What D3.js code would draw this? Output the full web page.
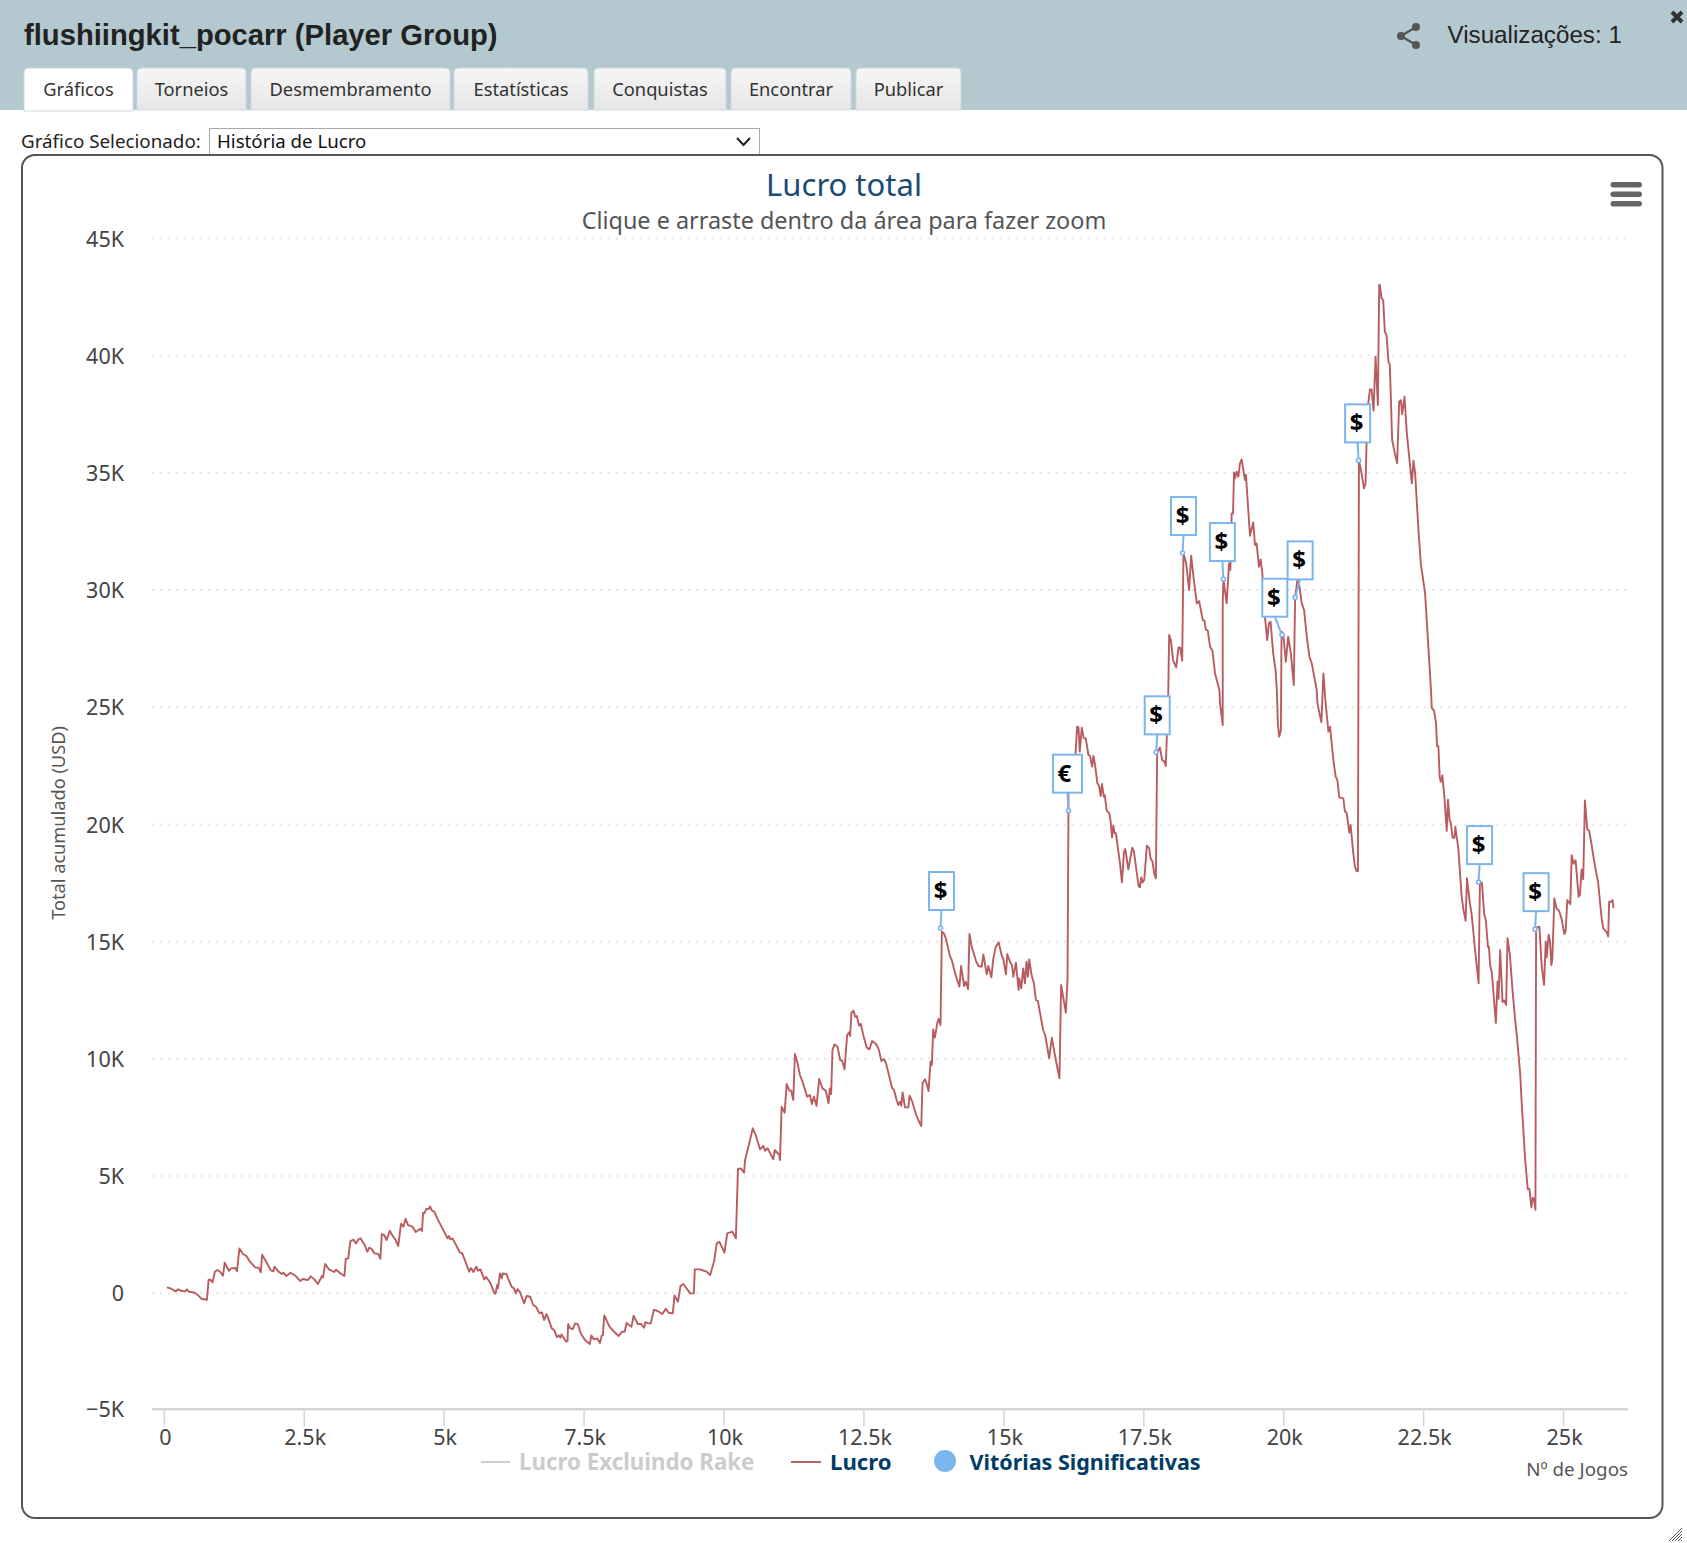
<!DOCTYPE html>
<html>
<head>
<meta charset="utf-8">
<script src="https://cdn.jsdelivr.net/npm/d3@7"></script>
<style>
  html, body { margin: 0; padding: 0; background: #fff; overflow: hidden; }
  svg { display: block; }
  text { font-family: "Noto Sans", sans-serif; }
  .arial { font-family: "Liberation Sans", Arial, sans-serif; }
</style>
</head>
<body>
<div id="container"></div>
<script>
const width = 1687;
const height = 1543;

const tabNames = ["Gráficos", "Torneios", "Desmembramento", "Estatísticas", "Conquistas", "Encontrar", "Publicar"];
const yTicks = [-5000, 0, 5000, 10000, 15000, 20000, 25000, 30000, 35000, 40000, 45000];
const yTickLabels = ["−5K", "0", "5K", "10K", "15K", "20K", "25K", "30K", "35K", "40K", "45K"];
const xTicks = [0, 2500, 5000, 7500, 10000, 12500, 15000, 17500, 20000, 22500, 25000];
const xTickLabels = ["0", "2.5k", "5k", "7.5k", "10k", "12.5k", "15k", "17.5k", "20k", "22.5k", "25k"];

// games played
const games = [
  57,132,207,257,320,382,413,445,538,601,670,770,801,832,870,913,957,1007,1057,1088,
  1163,1207,1276,1307,1351,1413,1476,1538,1632,1694,1732,1757,1819,1913,1957,1976,
  2045,2108,2139,2189,2264,2357,2439,2482,2576,2626,2689,2751,2826,2845,2882,2951,3045,3076,3170,3226,
  3251,3295,3332,3389,3432,3482,3514,3588,3638,3670,3714,3764,3826,3870,3895,3938,3982,
  4038,4082,4144,4188,4238,4282,4319,4363,4444,4501,4582,4613,4632,4657,4688,4738,4757,4788,4832,4894,4988,
  5069,5094,5119,5157,5238,5288,5332,5457,5488,5532,5582,5613,5657,5725,5757,5832,5907,5925,5957,5969,
  6006,6038,6056,6119,6213,6256,6288,6319,6369,6437,6481,6544,6600,6650,6712,6756,6794,6837,6869,6931,6975,
  7025,7056,7087,7106,7181,7212,7225,7262,7306,7350,7400,7444,7525,7612,7637,7681,7743,7793,7825,7844,7869,7962,
  8044,8126,8188,8232,8269,8313,8356,8394,8469,8532,8581,8606,8656,8700,8757,8844,8907,8969,9019,9094,9125,9187,9231,9282,9406,9469,9487,9581,
  9607,9698,9761,9833,9879,9925,10016,10067,10158,10221,10258,10312,10367,
  10385,10463,10522,10575,10652,10712,10742,10789,10890,10914,10997,11009,11038,11092,11128,11175,11210,11246,11276,11323,
  11365,11412,11495,11543,11578,11614,11662,11709,11769,11828,11875,11899,11923,11947,11982,
  12037,12084,12120,12162,12209,12245,12262,12286,12322,12352,12381,12423,12452,12512,12559,12607,12654,12725,12773,12820,
  12868,12903,12963,13010,13046,13093,13123,13153,13177,13200,13242,13301,13325,13372,13438,13479,13533,13556,13598,13628,
  13663,13699,13722,13746,13776,13818,13842,13877,13901,13937,13972,
  14049,14079,14138,14215,14245,14298,14328,14370,14394,14435,14512,14554,14613,14643,14702,14732,14785,14821,14862,14916,
  14969,14999,15046,15070,15118,15153,15177,15224,15272,15284,15319,15355,15385,15414,15438,15462,15504,15545,15581,15616,
  15711,15747,15818,15866,15937,16002,16032,16116,16146,16163,
  16163,16175,16288,16318,16342,16365,16401,16437,16472,16520,16549,16585,16609,16638,16680,16710,16739,16763,16793,16811,
  16846,16894,16917,16941,16965,16989,17012,17054,17084,17119,17155,17179,17232,17303,17333,17369,17416,17440,17464,17487,
  17517,17564,17606,17630,17665,17695,17725,17748,17796,17837,17873,17903,17921,17944,
  17962,17992,18033,18088,18129,18159,18195,18218,18266,18319,18355,18396,18456,18497,18563,18592,18616,18652,18693,18735,
  18782,18812,18860,18871,18919,
  18919,18931,18990,19032,19055,19079,19103,19121,19138,19168,19198,19228,19257,19317,19334,19406,19465,19495,19524,19566,
  19596,19625,19673,19714,19744,19774,19821,19863,19886,19904,19928,19958,19970,19999,
  20047,20088,20136,20189,20213,20255,20290,20332,20373,20421,20468,20510,20599,20611,20682,20718,20753,20807,20836,20896,
  20937,20967,21002,21074,21103,21133,21181,21204,21252,21282,21311,21335,21353,21400,21442,21471,21489,21519,21549,21578,
  21614,21650,21691,21715,21727,21757,21786,21816,21846,21881,21905,21946,21994,
  22035,22072,22102,22125,22167,22209,22298,22327,22357,22416,22458,22535,22640,
  22654,22695,22731,22748,22772,22796,22814,22843,22879,22921,22944,22974,22992,23027,23057,23075,23128,23188,23217,23259,
  23283,23336,23366,23425,23490,23514,23550,23591,23621,23657,23674,23698,23728,23752,23799,23829,23847,23876,23918,23947,
  23983,24007,24048,24096,24143,24173,24233,24262,24322,24369,24399,24434,24458,24482,24506,24518,24577,24618,24660,24690,
  24707,24743,24767,24791,24808,24844,24886,24927,24975,25022,25046,25075,25129,25153,25188,25224,25277,25301,25331,25360,
  25390,25432,25467,25509,25568,25627,25687,25717,25776,25806,25823,25865,25883,25901
];

// cumulative profit in USD, same order as games
const profit = [
  228,171,57,142,71,57,142,43,14,-85,-256,-299,555,555,441,896,967,896,725,1280,
  939,1038,1052,924,1891,1650,1564,1322,1081,1067,867,1621,1365,953,910,1109,
  910,796,853,711,853,711,498,583,540,697,569,370,711,654,1223,995,882,981,796,711,
  1436,1465,2190,2261,2105,2289,2318,2033,1749,1920,1863,1678,1664,1450,2503,2460,2247,
  2645,2446,2247,1991,2944,2816,3157,2887,2816,2588,2730,2631,3413,3384,3569,3583,3683,3512,3455,3128,2702,
  2318,2417,2275,2318,1962,1721,1678,896,1052,882,1109,939,995,569,668,427,-28,-43,327,185,
  825,611,825,796,256,185,-28,156,0,-455,-142,-171,-526,-597,-882,-839,-1166,-910,-1095,-1522,-1593,
  -1891,-1820,-1920,-1778,-2076,-2076,-1337,-1522,-1550,-1308,-1351,-1706,-2019,-2190,-1820,-1991,-1948,-2147,-1820,-1820,-967,-1450,
  -1664,-1849,-1664,-1664,-1294,-1379,-1450,-981,-1337,-1337,-1493,-1251,-1308,-1308,-725,-811,-910,-683,-853,-882,-114,-384,284,370,-28,-28,995,995,
  968,897,755,1352,2105,2177,1707,2532,2603,2319,5276,5305,5120,
  5661,6400,7012,6727,6116,6259,6059,6159,5689,6087,5874,5661,7936,7680,8903,8619,8619,8221,10183,9785,
  9287,9003,8363,8434,8050,8363,7965,9116,8718,8619,8078,8718,8477,10353,10595,
  10496,9927,9899,9529,10994,11107,10951,11946,12032,11775,11804,11392,11463,10851,10453,10382,10737,10610,10382,9884,
  9970,9785,9216,8747,8647,8221,8007,8149,7979,8548,7908,7908,8406,8149,7609,7367,7111,8932,9102,8932,
  8604,9856,9714,11235,10880,11491,11676,11420,15402,15331,15117,
  14335,14193,13624,13055,13937,13084,13269,12956,15302,14762,14149,13937,13908,14435,13581,13937,13454,14264,14733,14947,
  14406,14236,13581,14449,14122,13980,13482,14079,12913,13411,12984,13837,13198,14122,13482,14221,13553,13198,12487,12444,
  11207,10994,9998,10880,9927,9145,13126,11946,13341,20565,
  21304,21873,22940,24148,24120,23082,24106,23650,23650,22940,22897,22442,22897,22513,21731,21617,21190,21702,21162,21233,
  20565,20451,20095,19427,19925,19598,19598,18816,18318,17507,18816,18929,18062,18986,18816,18176,17351,17294,17721,17507,
  17607,19072,18958,18531,18389,17891,17678,23053,23252,22726,22669,22470,23793,25286,
  28057,27843,26991,26678,27531,27531,26962,31541,31114,29977,31441,30546,29408,29507,28697,28669,28298,28242,27559,27389,
  26422,26139,25711,25144,24219,
  29408,30446,29408,31114,30830,33247,33247,34996,34740,35025,34812,35380,35551,34669,34883,32295,32863,31897,31968,30972,
  31285,30759,28839,27844,28555,28626,27275,26564,25711,24290,23722,24006,28199,28128,
  26920,27986,27275,25925,29692,30404,30119,29408,29124,27986,27133,26848,25711,25144,24333,26422,25286,23935,24148,22726,
  22015,21873,21134,21091,20522,20480,19626,19953,18744,18176,17991,17991,35523,34954,34314,34527,36234,37940,38537,38537,
  37627,39931,37869,42988,42988,42419,42348,40997,40855,39717,39575,36376,35807,
  35380,38011,38082,37485,38224,36660,34527,35494,34954,32536,31114,29835,25711,
  24941,24838,24277,23318,23318,21989,21798,22063,21178,19702,21030,20115,20071,19406,19406,19879,18964,16897,16381,15864,
  17680,16602,16159,14683,13207,17488,17488,16159,15864,14757,14757,13945,13650,12912,11510,13281,12543,14610,12395,12469,
  12277,15126,14462,12912,11657,10993,9370,8041,5680,4425,4425,3643,4056,3982,3539,15569,15613,13945,13133,14978,
  14314,15274,14978,13975,14240,16823,16381,16307,15938,15303,15421,16750,16572,18668,18299,18447,16897,16971,18048,17635,
  21000,19775,19702,19111,18226,17488,16012,15540,15392,15200,16676,16676,16750,16410
];

const flagGames = [13877, 16163, 17731, 18201, 18931, 19975, 20213, 21347, 23490, 24500];
const flagProfit = [15558, 20565, 23053, 31555, 30446, 28071, 29664, 35508, 17517, 15510];
const flagSymbols = ["$", "€", "$", "$", "$", "$", "$", "$", "$", "$"];

const lineColor = "#b85c60";
const flagColor = "#7cb5ec";
const titleColor = "#1b4a70";
const legendColor = "#003c66";

const svg = d3.select("#container").append("svg")
  .attr("width", width).attr("height", height)
  .attr("viewBox", `0 0 ${width} ${height}`);

const defs = svg.append("defs");
const tabGrad = defs.append("linearGradient").attr("id", "tabGrad")
  .attr("x1", 0).attr("x2", 0).attr("y1", 0).attr("y2", 1);
tabGrad.append("stop").attr("offset", "0%").attr("stop-color", "#f6f6f6");
tabGrad.append("stop").attr("offset", "100%").attr("stop-color", "#e6e6e6");

// page header
svg.append("rect").attr("width", width).attr("height", 110).attr("fill", "#b4c8d0");
svg.append("text").attr("class", "arial").attr("x", 24).attr("y", 45)
  .attr("font-size", 29.2).attr("font-weight", 700).attr("fill", "#222")
  .text("flushiingkit_pocarr (Player Group)");
svg.append("text").attr("class", "arial").attr("x", 1447.5).attr("y", 43)
  .attr("font-size", 24.2).attr("fill", "#222").text("Visualizações: 1");

const share = svg.append("g").attr("stroke", "#555").attr("fill", "#555");
share.append("path").attr("fill", "none").attr("stroke-width", 2.4).attr("d", "M1416,27 L1401,36 L1416,45");
[[1416, 27], [1401, 36], [1416, 45]].forEach(([cx, cy]) =>
  share.append("circle").attr("cx", cx).attr("cy", cy).attr("r", 4).attr("stroke", "none"));

svg.append("path").attr("d", "M1672,12 L1682,22 M1682,12 L1672,22")
  .attr("stroke", "#333").attr("stroke-width", 4);

// tabs
const tabEdges = [[24, 133], [137, 246], [251, 450], [454, 588], [594, 726], [731, 851], [856, 961]];
const tabs = svg.selectAll(".tab").data(tabNames).join("g").attr("class", "tab");
tabs.append("path")
  .attr("d", (d, i) => {
    const [a, b] = tabEdges[i];
    const bottom = i === 0 ? 111 : 110;
    return `M${a},${bottom} V73 Q${a},68 ${a + 5},68 H${b - 5} Q${b},68 ${b},73 V${bottom} Z`;
  })
  .attr("fill", (d, i) => (i === 0 ? "#fff" : "url(#tabGrad)"))
  .attr("stroke", "#cfd8dc");
tabs.append("text")
  .attr("x", (d, i) => (tabEdges[i][0] + tabEdges[i][1]) / 2)
  .attr("y", 95.5).attr("text-anchor", "middle")
  .attr("font-size", 18.3).attr("fill", "#333")
  .text((d) => d);

// graph picker
svg.append("text").attr("x", 21).attr("y", 148).attr("font-size", 18.8).attr("fill", "#222").text("Gráfico Selecionado:");
svg.append("rect").attr("x", 209.5).attr("y", 128.5).attr("width", 550).attr("height", 26)
  .attr("fill", "#fff").attr("stroke", "#aaa");
svg.append("text").attr("x", 217).attr("y", 148).attr("font-size", 18.7).attr("fill", "#111").text("História de Lucro");
svg.append("path").attr("d", "M737,138 L743.5,145 L750,138").attr("fill", "none").attr("stroke", "#222").attr("stroke-width", 2);

// chart frame
svg.append("rect").attr("x", 22).attr("y", 155).attr("width", 1640.5).attr("height", 1363)
  .attr("rx", 13).attr("fill", "#fff").attr("stroke", "#555").attr("stroke-width", 2);

svg.append("text").attr("x", 844).attr("y", 195.5).attr("text-anchor", "middle")
  .attr("font-size", 31).attr("fill", titleColor).text("Lucro total");
svg.append("text").attr("x", 844).attr("y", 229).attr("text-anchor", "middle")
  .attr("font-size", 23.4).attr("fill", "#555").text("Clique e arraste dentro da área para fazer zoom");

[184.7, 194.2, 203.7].forEach((y) =>
  svg.append("rect").attr("x", 1610.5).attr("y", y - 2.7).attr("width", 31.5).attr("height", 5.4)
    .attr("rx", 2.7).attr("fill", "#666"));

// scales
const x = d3.scaleLinear().domain([-211, 26160]).range([152, 1628]);
const y = d3.scaleLinear().domain([-5000, 45000]).range([1409.9, 237.9]);

// grid and y axis
const yAxis = svg.append("g")
  .attr("transform", `translate(${x.range()[0]},0)`)
  .call(d3.axisLeft(y)
    .tickValues(yTicks.slice(1))
    .tickSize(-(x.range()[1] - x.range()[0]))
    .tickPadding(28)
    .tickFormat((d) => yTickLabels[yTicks.indexOf(d)]));
yAxis.select(".domain").remove();
yAxis.selectAll("line").attr("stroke", "#e6e6e6").attr("stroke-width", 2).attr("stroke-dasharray", "2,6");
yAxis.selectAll("text").attr("font-size", 21.5).attr("fill", "#444").attr("font-family", "Noto Sans").attr("dy", "0.38em");
svg.append("text").attr("x", 124).attr("y", y(-5000) + 7).attr("text-anchor", "end")
  .attr("font-size", 21.5).attr("fill", "#444").text(yTickLabels[0]);

// x axis
const xAxis = svg.append("g")
  .attr("transform", `translate(0,${y(-5000) - 0.6})`)
  .call(d3.axisBottom(x)
    .tickValues(xTicks)
    .tickSize(17)
    .tickPadding(3)
    .tickFormat((d, i) => xTickLabels[i]));
xAxis.select(".domain").attr("stroke", "#ccc").attr("stroke-width", 2).attr("d", `M${x.range()[0]},0H${x.range()[1]}`);
xAxis.selectAll("line").attr("stroke", "#ccd6eb").attr("stroke-width", 1.5);
xAxis.selectAll("text").attr("font-size", 21.5).attr("fill", "#444").attr("font-family", "Noto Sans").attr("dx", 1);

svg.append("text")
  .attr("transform", "translate(65,823) rotate(-90)")
  .attr("text-anchor", "middle").attr("font-size", 18.2).attr("fill", "#555")
  .text("Total acumulado (USD)");
svg.append("text").attr("x", 1628).attr("y", 1476).attr("text-anchor", "end")
  .attr("font-size", 18.8).attr("fill", "#555").text("Nº de Jogos");

// profit line
const points = d3.zip(games, profit);
const line = d3.line().x((d) => x(d[0])).y((d) => y(d[1]));
svg.append("path").datum(points)
  .attr("fill", "none").attr("stroke", lineColor).attr("stroke-width", 1.9)
  .attr("stroke-linejoin", "round").attr("d", line);

// flags for the big wins, boxes pushed sideways where they would collide
const flagNudge = [1, -1, 1, 1, -1, -7, 5, -1, 1, 1];
const flags = svg.selectAll(".flag").data(d3.zip(flagGames, flagProfit, flagSymbols)).join("g").attr("class", "flag");
flags.append("path")
  .attr("d", (d, i) => `M${x(d[0])},${y(d[1])} L${x(d[0]) + flagNudge[i]},${y(d[1]) - 18}`)
  .attr("stroke", flagColor).attr("stroke-width", 2);
flags.append("circle")
  .attr("cx", (d) => x(d[0])).attr("cy", (d) => y(d[1])).attr("r", 2)
  .attr("fill", "#fff").attr("stroke", flagColor).attr("stroke-width", 1.6);
const flagWidth = (d) => (d[2] === "€" ? 29 : 25);
flags.append("rect")
  .attr("x", (d, i) => x(d[0]) + flagNudge[i] - flagWidth(d) / 2)
  .attr("y", (d) => y(d[1]) - 18 - 38)
  .attr("width", flagWidth).attr("height", 38)
  .attr("fill", "#fff").attr("stroke", flagColor).attr("stroke-width", 2);
flags.append("text")
  .attr("x", (d, i) => x(d[0]) + flagNudge[i] - (d[2] === "€" ? 3 : 1))
  .attr("y", (d) => y(d[1]) - 18 - 11)
  .attr("text-anchor", "middle").attr("font-size", 24).attr("font-weight", 700).attr("fill", "#000")
  .text((d) => d[2]);

// legend
const legend = svg.append("g").attr("font-weight", 700);
legend.append("path").attr("d", "M481,1462H510").attr("stroke", "#ccc").attr("stroke-width", 1.9);
legend.append("text").attr("x", 519).attr("y", 1470).attr("font-size", 22.3).attr("fill", "#ccc").text("Lucro Excluindo Rake");
legend.append("path").attr("d", "M791,1462H821").attr("stroke", lineColor).attr("stroke-width", 1.9);
legend.append("text").attr("x", 830).attr("y", 1470).attr("font-size", 22.2).attr("fill", legendColor).text("Lucro");
legend.append("circle").attr("cx", 945).attr("cy", 1461).attr("r", 11).attr("fill", flagColor);
legend.append("text").attr("x", 969.5).attr("y", 1470).attr("font-size", 21.5).attr("fill", legendColor).text("Vitórias Significativas");

// resize grip
svg.append("g").attr("stroke", "#555").attr("stroke-width", 1)
  .selectAll("path").data([0, 3, 6, 9, 12]).join("path")
  .attr("d", (d) => `M${1669 + d},1541 L1682,${1528 + d}`);
</script>
</body>
</html>
